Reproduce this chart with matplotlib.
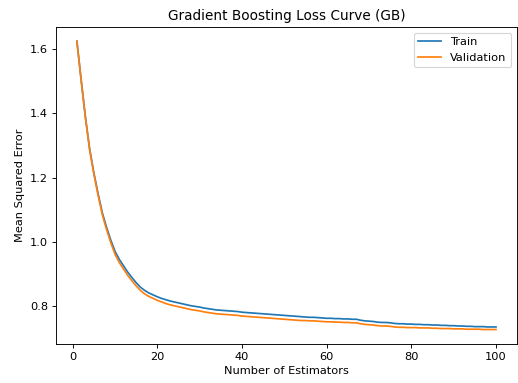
import matplotlib.pyplot as plt

# loss per boosting stage
n_estimators = list(range(1, 101))
train_loss = [
    1.625, 1.505, 1.390, 1.290, 1.215, 1.150, 1.090, 1.045, 1.005, 0.970,
    0.945, 0.925, 0.905, 0.888, 0.872, 0.858, 0.848, 0.840, 0.834, 0.828,
    0.823, 0.819, 0.815, 0.812, 0.809, 0.806, 0.803, 0.800, 0.798, 0.796,
    0.793, 0.791, 0.789, 0.787, 0.786, 0.785, 0.784, 0.783, 0.782, 0.780,
    0.779, 0.778, 0.777, 0.776, 0.775, 0.774, 0.773, 0.772, 0.771, 0.770,
    0.769, 0.768, 0.767, 0.766, 0.765, 0.764, 0.764, 0.763, 0.762, 0.761,
    0.761, 0.760, 0.760, 0.759, 0.759, 0.758, 0.758, 0.755, 0.753, 0.752,
    0.751, 0.749, 0.748, 0.748, 0.747, 0.745, 0.744, 0.744, 0.743, 0.743,
    0.742, 0.742, 0.741, 0.741, 0.740, 0.740, 0.739, 0.739, 0.738, 0.738,
    0.737, 0.737, 0.736, 0.736, 0.735, 0.735, 0.735, 0.734, 0.734, 0.734,
]
val_loss = [
    1.625, 1.504, 1.388, 1.287, 1.211, 1.145, 1.084, 1.038, 0.997, 0.961,
    0.935, 0.915, 0.895, 0.878, 0.862, 0.848, 0.837, 0.829, 0.823, 0.817,
    0.812, 0.807, 0.803, 0.800, 0.797, 0.794, 0.791, 0.788, 0.786, 0.784,
    0.781, 0.779, 0.777, 0.775, 0.774, 0.773, 0.772, 0.771, 0.770, 0.768,
    0.767, 0.766, 0.765, 0.764, 0.763, 0.762, 0.761, 0.760, 0.759, 0.758,
    0.757, 0.756, 0.755, 0.754, 0.754, 0.753, 0.753, 0.752, 0.751, 0.750,
    0.750, 0.749, 0.749, 0.748, 0.748, 0.747, 0.747, 0.744, 0.742, 0.741,
    0.740, 0.738, 0.737, 0.737, 0.736, 0.734, 0.733, 0.733, 0.732, 0.732,
    0.732, 0.731, 0.731, 0.731, 0.730, 0.730, 0.729, 0.729, 0.729, 0.728,
    0.728, 0.728, 0.727, 0.727, 0.727, 0.727, 0.726, 0.726, 0.726, 0.726,
]

dpi = 82
fig = plt.figure(figsize=(518 / dpi, 383 / dpi), dpi=dpi)
plt.subplots_adjust(left=0.108, right=0.998, bottom=0.102, top=0.93)
plt.plot(n_estimators, train_loss, label='Train')
plt.plot(n_estimators, val_loss, label='Validation')
plt.xlabel('Number of Estimators')
plt.ylabel('Mean Squared Error')
plt.title('Gradient Boosting Loss Curve (GB)')
plt.legend()
plt.savefig('out.png', dpi=dpi)
